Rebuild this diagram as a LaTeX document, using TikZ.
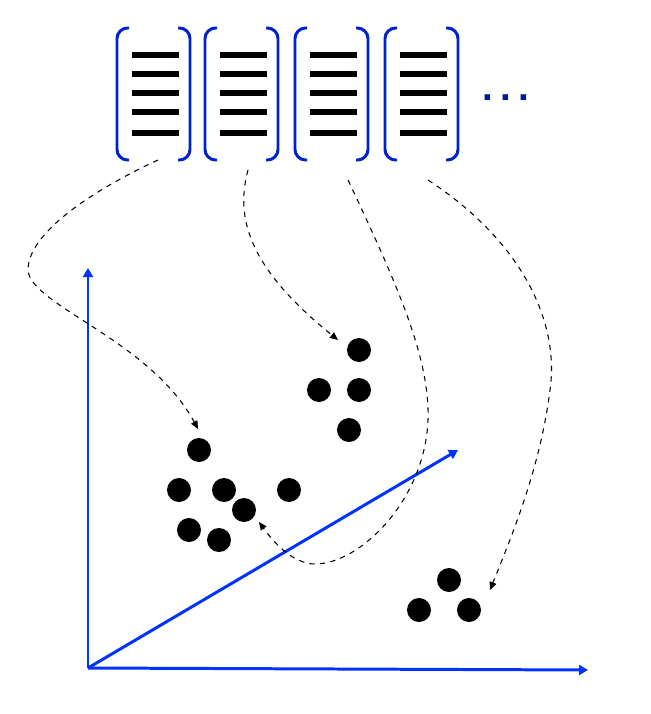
\documentclass[tikz,border=0pt]{standalone}
\usepackage{fontspec}
\setsansfont{Liberation Sans}
\usetikzlibrary{arrows.meta}
\definecolor{axisblue}{RGB}{0,51,255}
\definecolor{bracketblue}{RGB}{0,34,204}
\definecolor{dotnavy}{RGB}{0,25,153}
\newcommand{\blob}{\node[shape = circle, fill = black, minimum size = 0.48cm, inner sep = 0pt]}

\begin{document}
\begin{tikzpicture}[x=0.02cm, y=-0.02cm,
	axis/.style={axisblue, line width=1.7pt, -{Triangle[length=0.18cm,width=0.2cm]}},
	link/.style={dashed, line width=0.6pt, -{Triangle[length=0.16cm,width=0.14cm]}},
	bracket/.style={bracketblue, line width=1.7pt, rounded corners=6pt},
	textline/.style={line width=2.9pt}]
	\useasboundingbox (0,0) rectangle (650,714);
	% documents
	\foreach \c in {154,242,332,422} {
		\draw[bracket] (\c-25,28) -- (\c-37,28) -- (\c-37,160) -- (\c-25,160);
		\draw[bracket] (\c+24,28) -- (\c+36,28) -- (\c+36,160) -- (\c+24,160);
		\foreach \y in {55,74,93,112,133}
			\draw[textline] (\c-22,\y) -- (\c+25,\y);
	}
	\node[text = dotnavy, font = \sffamily\bfseries\fontsize{22}{22}\selectfont, inner sep = 0pt, anchor = base west] (more) at (482,100) {.\hspace{4.1pt}.\hspace{4.1pt}.};
	\coordinate (s1) at (158,160);
	\coordinate (s2) at (248,170);
	\coordinate (s3) at (348,180);
	\coordinate (s4) at (428,180);
	% axes
	\coordinate (o) at (88,668);
	\coordinate (ytip) at (88,268);
	\coordinate (xtip) at (588,670);
	\coordinate (ztip) at (458,450);
	\draw[axis] (o) -- (ytip);
	\draw[axis] (o) -- (xtip);
	\draw[axis] (o) -- (ztip);
	% points
	\blob (a) at (199,450) {};
	\blob (b) at (179,490) {};
	\blob (c) at (224,490) {};
	\blob (d) at (244,510) {};
	\blob (e) at (189,530) {};
	\blob (f) at (219,540) {};
	\blob (g) at (289,490) {};
	\blob (h) at (359,350) {};
	\blob (i) at (319,390) {};
	\blob (j) at (359,390) {};
	\blob (k) at (349,430) {};
	\blob (l) at (449,580) {};
	\blob (m) at (419,610) {};
	\blob (n) at (469,610) {};
	\coordinate (t1) at (198,429);
	\coordinate (t2) at (338,340);
	\coordinate (t3) at (259,522);
	\coordinate (t4) at (490,590);
	% links
	\draw[link] (s1) .. controls (110,182) and (28,228) .. (28,270)
		.. controls (30,305) and (150,340) .. (t1);
	\draw[link] (s2) .. controls (236,215) and (245,265) .. (t2);
	\draw[link] (s3) .. controls (400,290) and (430,360) .. (428,420)
		.. controls (425,500) and (360,564) .. (315,564)
		.. controls (292,564) and (272,540) .. (t3);
	\draw[link] (s4) .. controls (520,240) and (560,320) .. (550,390)
		.. controls (540,470) and (510,540) .. (t4);
\end{tikzpicture}
\end{document}
